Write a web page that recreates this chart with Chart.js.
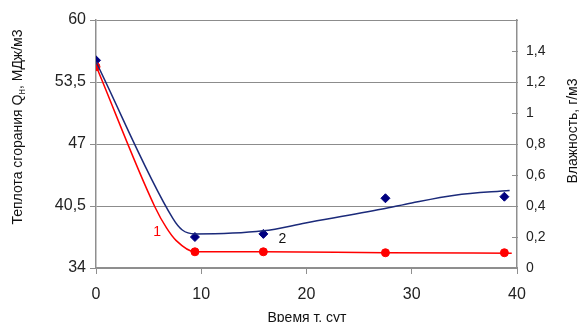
<!DOCTYPE html>
<html>
<head>
<meta charset="utf-8">
<script src="https://cdn.jsdelivr.net/npm/chart.js@4.4.0/dist/chart.umd.min.js"></script>
<style>
  html, body { margin: 0; padding: 0; background: #fff; }
  #wrap { width: 581px; height: 322px; }
</style>
</head>
<body>
<div id="wrap"><canvas id="chart" width="581" height="322"></canvas></div>
<script>
// 📋 Measured points
const days = [0, 9.4, 15.9, 27.5, 38.8];
const heatValues = [55.1, 35.7, 35.7, 35.6, 35.6];        // curve 1, МДж/м3
const moistureValues = [1.34, 0.2, 0.22, 0.45, 0.46];     // curve 2, г/м3

// 〰️ Smoothed curves
const heatCurveDays = [0, 5.6, 6.7, 7.6, 9.4, 15.9, 27.5, 39.5];
const heatCurveValues = [55.2, 40.4, 38.2, 36.9, 35.7, 35.7, 35.6, 35.55];
const moistCurveDays = [0, 7.3, 8.2, 9.4, 15.9, 19.9, 27.2, 30, 34.1, 39.3];
const moistCurveValues = [1.33, 0.32, 0.245, 0.22, 0.24, 0.29, 0.38, 0.42, 0.47, 0.5];

// 🔢 Axis ticks
const xTicks = [0, 10, 20, 30, 40];
const heatTicks = [34, 40.5, 47, 53.5, 60];
const moistTicks = [0, 0.2, 0.4, 0.6, 0.8, 1, 1.2, 1.4, 1.6];

const RED = "#ff0000";
const NAVY = "#1b2a7a";
const AXIS = "#8f8f8f";
const FONT = "'Liberation Sans', Arial, sans-serif";

const pairs = (xs, ys) => xs.map((x, i) => ({ x: x, y: ys[i] }));
const comma = (v) => String(Math.round(v * 10) / 10).replace(".", ",");

// ✍️ Titles, curve numbers and inner ticks of the right axis
const decorations = {
  id: "decorations",
  afterDraw(chart) {
    const ctx = chart.ctx;
    const sx = chart.scales.x;
    const yl = chart.scales.yHeat;
    const yr = chart.scales.yMoist;
    ctx.save();

    // right axis tick marks point into the plot
    ctx.strokeStyle = AXIS;
    ctx.lineWidth = 1;
    moistTicks.forEach((v) => {
      const py = Math.round(yr.getPixelForValue(v)) + 0.5;
      ctx.beginPath();
      ctx.moveTo(yr.left - 5, py);
      ctx.lineTo(yr.left + 1, py);
      ctx.stroke();
    });

    // numbers of the curves
    ctx.font = "14px " + FONT;
    ctx.textAlign = "center";
    ctx.textBaseline = "middle";
    ctx.fillStyle = RED;
    ctx.fillText("1", sx.getPixelForValue(5.8), yl.getPixelForValue(37.8));
    ctx.fillStyle = "#111";
    ctx.fillText("2", sx.getPixelForValue(17.7), yl.getPixelForValue(37.05));

    // x title
    ctx.fillStyle = "#111";
    ctx.fillText("Время т, сут", 307, 318);

    // left title with subscript
    ctx.save();
    ctx.translate(18, 127);
    ctx.rotate(-Math.PI / 2);
    const p1 = "Теплота сгорания Q";
    const p2 = "н";
    const p3 = ", МДж/м3";
    ctx.font = "14px " + FONT;
    const w1 = ctx.measureText(p1).width;
    const w3 = ctx.measureText(p3).width;
    ctx.font = "10px " + FONT;
    const w2 = ctx.measureText(p2).width;
    let x0 = -(w1 + w2 + w3) / 2;
    ctx.textAlign = "left";
    ctx.font = "14px " + FONT;
    ctx.fillText(p1, x0, 0);
    ctx.font = "10px " + FONT;
    ctx.fillText(p2, x0 + w1, 4);
    ctx.font = "14px " + FONT;
    ctx.fillText(p3, x0 + w1 + w2, 0);
    ctx.restore();

    // right title
    ctx.save();
    ctx.translate(573, 131);
    ctx.rotate(-Math.PI / 2);
    ctx.textAlign = "center";
    ctx.fillText("Влажность, г/м3", 0, 0);
    ctx.restore();

    ctx.restore();
  }
};

const chart = new Chart(document.getElementById("chart"), {
  type: "scatter",
  data: {
    datasets: [
      {
        label: "1 curve",
        data: pairs(heatCurveDays, heatCurveValues),
        yAxisID: "yHeat",
        showLine: true,
        borderColor: RED,
        borderWidth: 1.5,
        pointRadius: 0,
        cubicInterpolationMode: "monotone"
      },
      {
        label: "2 curve",
        data: pairs(moistCurveDays, moistCurveValues),
        yAxisID: "yMoist",
        showLine: true,
        borderColor: NAVY,
        borderWidth: 1.5,
        pointRadius: 0,
        cubicInterpolationMode: "monotone"
      },
      {
        label: "1",
        data: pairs(days, heatValues),
        yAxisID: "yHeat",
        pointStyle: "circle",
        pointRadius: 4,
        backgroundColor: RED,
        borderColor: RED
      },
      {
        label: "2",
        data: pairs(days, moistureValues),
        yAxisID: "yMoist",
        pointStyle: "rectRot",
        pointRadius: 4.5,
        backgroundColor: "#000080",
        borderColor: "#000080"
      }
    ]
  },
  options: {
    responsive: false,
    animation: false,
    layout: { padding: { top: 20, left: 0, right: 0, bottom: 0 } },
    plugins: {
      legend: { display: false },
      tooltip: { enabled: false }
    },
    scales: {
      x: {
        type: "linear",
        min: xTicks[0],
        max: xTicks[xTicks.length - 1],
        afterBuildTicks: (s) => { s.ticks = xTicks.map((v) => ({ value: v })); },
        afterFit: (s) => { s.height = 54; },
        border: { color: AXIS, width: 1.5 },
        grid: { drawOnChartArea: false, color: AXIS, tickLength: 6 },
        ticks: { color: "#222", font: { family: FONT, size: 16 }, padding: 11 }
      },
      yHeat: {
        position: "left",
        min: heatTicks[0],
        max: heatTicks[heatTicks.length - 1],
        afterBuildTicks: (s) => { s.ticks = heatTicks.map((v) => ({ value: v })); },
        afterFit: (s) => { s.width = 96; },
        border: { color: AXIS, width: 1.5 },
        grid: { color: "#8c8c8c", lineWidth: 1, tickLength: 6 },
        ticks: {
          color: "#222",
          font: { family: FONT, size: 16 },
          padding: 4,
          callback: (v) => comma(v)
        }
      },
      yMoist: {
        position: "right",
        min: moistTicks[0],
        max: moistTicks[moistTicks.length - 1],
        afterBuildTicks: (s) => { s.ticks = moistTicks.map((v) => ({ value: v })); },
        afterFit: (s) => { s.width = 64; },
        border: { color: AXIS, width: 1.5 },
        grid: { drawOnChartArea: false, drawTicks: false },
        ticks: {
          color: "#222",
          font: { family: FONT, size: 14 },
          padding: 9,
          callback: (v) => (v >= 1.6 ? "" : comma(v))
        }
      }
    }
  },
  plugins: [decorations]
});
</script>
</body>
</html>
